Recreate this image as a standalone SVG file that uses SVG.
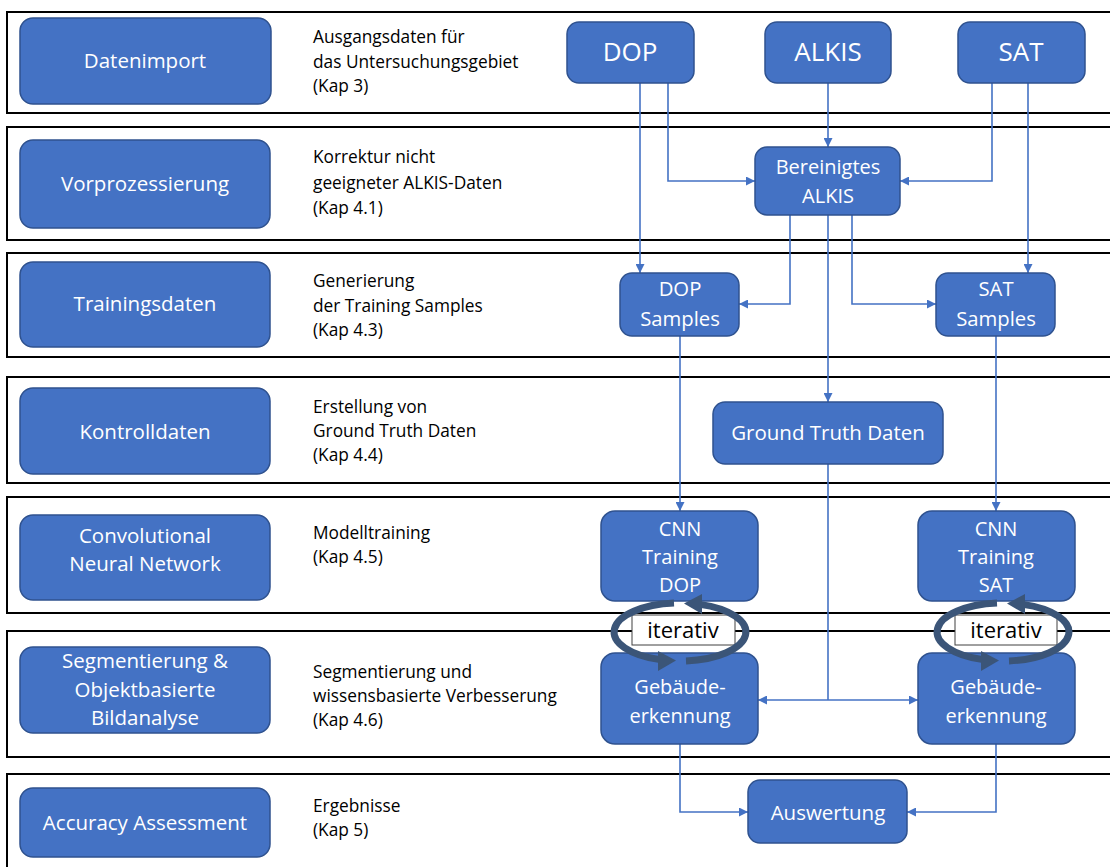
<svg xmlns="http://www.w3.org/2000/svg" width="1110" height="867" viewBox="0 0 1110 867">
  <defs>
    <marker id="arr" viewBox="0 0 10 10" refX="10" refY="5" markerWidth="9" markerHeight="9" markerUnits="userSpaceOnUse" orient="auto">
      <path d="M0,0 L10,5 L0,10 z" fill="#4472C4"/>
    </marker>
    <style>
      .band { fill: #ffffff; stroke: #000000; stroke-width: 2; }
      .node { fill: #4472C4; stroke: #2F528F; stroke-width: 1.5; }
      .nt { fill: #ffffff; font-family: "Open Sans", "Noto Sans", sans-serif; text-anchor: middle; }
      .desc { fill: #000000; font-family: "Open Sans", "Noto Sans", sans-serif; font-size: 17.3px; }
      .conn { fill: none; stroke: #4472C4; stroke-width: 1.6; marker-end: url(#arr); }
      .line { fill: none; stroke: #4472C4; stroke-width: 1.6; }
      .loop { fill: none; stroke: #3B5578; stroke-width: 7; }
      .loophead { fill: #3B5578; }
      .itbox { fill: #ffffff; stroke: #404040; stroke-width: 1; }
      .it { fill: #000000; font-family: "Open Sans", "Noto Sans", sans-serif; font-size: 22px; text-anchor: middle; }
    </style>
  </defs>

  <rect width="1110" height="867" fill="#ffffff"/>

  <!-- process stage bands -->
  <g id="bands">
    <rect class="band" x="7" y="12" width="1110" height="101"/>
    <rect class="band" x="7" y="127" width="1110" height="113"/>
    <rect class="band" x="7" y="253" width="1110" height="104"/>
    <rect class="band" x="7" y="377" width="1110" height="106"/>
    <rect class="band" x="7" y="497" width="1110" height="116"/>
    <rect class="band" x="7" y="631" width="1110" height="126"/>
    <rect class="band" x="7" y="774" width="1110" height="100"/>
  </g>

  <!-- stage labels -->
  <g id="stage-datenimport">
    <rect class="node" x="20" y="18" width="251" height="86" rx="13"/>
    <text class="nt" x="145" y="68" font-size="20.5">Datenimport</text>
  </g>
  <g id="stage-vorprozessierung">
    <rect class="node" x="20" y="140" width="250" height="88" rx="13"/>
    <text class="nt" x="145" y="191" font-size="20.5">Vorprozessierung</text>
  </g>
  <g id="stage-trainingsdaten">
    <rect class="node" x="20" y="262" width="250" height="85" rx="13"/>
    <text class="nt" x="145" y="311" font-size="20.5">Trainingsdaten</text>
  </g>
  <g id="stage-kontrolldaten">
    <rect class="node" x="20" y="388" width="250" height="86" rx="13"/>
    <text class="nt" x="145" y="439" font-size="20.5">Kontrolldaten</text>
  </g>
  <g id="stage-cnn">
    <rect class="node" x="20" y="515" width="250" height="85" rx="13"/>
    <text class="nt" x="145" y="543" font-size="20.5">Convolutional</text>
    <text class="nt" x="145" y="571" font-size="20.5">Neural Network</text>
  </g>
  <g id="stage-segmentierung">
    <rect class="node" x="20" y="647" width="250" height="86" rx="13"/>
    <text class="nt" x="145" y="668" font-size="20.5">Segmentierung &amp;</text>
    <text class="nt" x="145" y="697" font-size="20.5">Objektbasierte</text>
    <text class="nt" x="145" y="725" font-size="20.5">Bildanalyse</text>
  </g>
  <g id="stage-accuracy">
    <rect class="node" x="20" y="788" width="250" height="69" rx="13"/>
    <text class="nt" x="145" y="830" font-size="20.5">Accuracy Assessment</text>
  </g>

  <!-- stage descriptions -->
  <g id="descriptions">
    <text class="desc" x="313" y="43">Ausgangsdaten für</text>
    <text class="desc" x="313" y="68">das Untersuchungsgebiet</text>
    <text class="desc" x="313" y="92">(Kap 3)</text>
    <text class="desc" x="313" y="163">Korrektur nicht</text>
    <text class="desc" x="313" y="189">geeigneter ALKIS-Daten</text>
    <text class="desc" x="313" y="214">(Kap 4.1)</text>
    <text class="desc" x="313" y="287">Generierung</text>
    <text class="desc" x="313" y="312">der Training Samples</text>
    <text class="desc" x="313" y="336">(Kap 4.3)</text>
    <text class="desc" x="313" y="413">Erstellung von</text>
    <text class="desc" x="313" y="437">Ground Truth Daten</text>
    <text class="desc" x="313" y="461">(Kap 4.4)</text>
    <text class="desc" x="313" y="539">Modelltraining</text>
    <text class="desc" x="313" y="563">(Kap 4.5)</text>
    <text class="desc" x="313" y="678">Segmentierung und</text>
    <text class="desc" x="313" y="702">wissensbasierte Verbesserung</text>
    <text class="desc" x="313" y="726">(Kap 4.6)</text>
    <text class="desc" x="313" y="812">Ergebnisse</text>
    <text class="desc" x="313" y="836">(Kap 5)</text>
  </g>

  <!-- connectors -->
  <g id="connectors">
    <path class="conn" d="M640,83 V273"/>
    <path class="conn" d="M668,83 V181 H755"/>
    <path class="conn" d="M828,83 V147"/>
    <path class="conn" d="M992,83 V181 H900"/>
    <path class="conn" d="M1028,83 V273"/>
    <path class="conn" d="M790,215 V304 H739"/>
    <path class="conn" d="M828,215 V402"/>
    <path class="conn" d="M852,215 V304 H936"/>
    <path class="conn" d="M680,336 V511"/>
    <path class="conn" d="M996,336 V511"/>
    <path class="line" d="M828,464 V700"/>
    <path class="conn" d="M828,700 H758"/>
    <path class="conn" d="M828,700 H918"/>
    <path class="conn" d="M680,744 V812 H748"/>
    <path class="conn" d="M996,744 V812 H907"/>
  </g>

  <!-- data nodes -->
  <g id="node-dop">
    <rect class="node" x="567" y="22" width="127" height="61" rx="12"/>
    <text class="nt" x="630" y="61" font-size="26">DOP</text>
  </g>
  <g id="node-alkis">
    <rect class="node" x="765" y="22" width="126" height="61" rx="12"/>
    <text class="nt" x="828" y="61" font-size="26">ALKIS</text>
  </g>
  <g id="node-sat">
    <rect class="node" x="958" y="22" width="127" height="61" rx="12"/>
    <text class="nt" x="1021" y="61" font-size="26">SAT</text>
  </g>
  <g id="node-bereinigtes-alkis">
    <rect class="node" x="755" y="147" width="145" height="68" rx="12"/>
    <text class="nt" x="828" y="174" font-size="20">Bereinigtes</text>
    <text class="nt" x="828" y="203" font-size="20">ALKIS</text>
  </g>
  <g id="node-dop-samples">
    <rect class="node" x="620" y="273" width="119" height="63" rx="12"/>
    <text class="nt" x="680" y="296" font-size="20.3">DOP</text>
    <text class="nt" x="680" y="326" font-size="20.3">Samples</text>
  </g>
  <g id="node-sat-samples">
    <rect class="node" x="936" y="273" width="119" height="63" rx="12"/>
    <text class="nt" x="996" y="296" font-size="20.3">SAT</text>
    <text class="nt" x="996" y="326" font-size="20.3">Samples</text>
  </g>
  <g id="node-ground-truth">
    <rect class="node" x="713" y="402" width="230" height="62" rx="12"/>
    <text class="nt" x="828" y="440" font-size="20.5">Ground Truth Daten</text>
  </g>
  <g id="node-cnn-dop">
    <rect class="node" x="601" y="511" width="157" height="90" rx="14"/>
    <text class="nt" x="680" y="536" font-size="20">CNN</text>
    <text class="nt" x="680" y="564" font-size="20">Training</text>
    <text class="nt" x="680" y="592" font-size="20">DOP</text>
  </g>
  <g id="node-cnn-sat">
    <rect class="node" x="918" y="511" width="157" height="90" rx="14"/>
    <text class="nt" x="996" y="536" font-size="20">CNN</text>
    <text class="nt" x="996" y="564" font-size="20">Training</text>
    <text class="nt" x="996" y="592" font-size="20">SAT</text>
  </g>
  <g id="node-gebaeude-dop">
    <rect class="node" x="601" y="653" width="157" height="91" rx="14"/>
    <text class="nt" x="680" y="694" font-size="20">Gebäude-</text>
    <text class="nt" x="680" y="723" font-size="20">erkennung</text>
  </g>
  <g id="node-gebaeude-sat">
    <rect class="node" x="918" y="653" width="157" height="91" rx="14"/>
    <text class="nt" x="996" y="694" font-size="20">Gebäude-</text>
    <text class="nt" x="996" y="723" font-size="20">erkennung</text>
  </g>
  <g id="node-auswertung">
    <rect class="node" x="748" y="780" width="159" height="63" rx="12"/>
    <text class="nt" x="828" y="820" font-size="20.5">Auswertung</text>
  </g>

  <!-- iteration loops between training and detection -->
  <g id="loop-dop">
    <rect class="itbox" x="632" y="615" width="103" height="30"/>
    <text class="it" x="683" y="638">iterativ</text>
    <path class="loop" d="M686,660.9 A66,29 0 0 0 700,604.4"/>
    <polygon class="loophead" points="684,603.5 702,594 702,614"/>
    <path class="loop" d="M674,603.1 A66,29 0 0 0 660,659.6"/>
    <polygon class="loophead" points="676,660.5 658,651 658,671"/>
  </g>
  <g id="loop-sat">
    <rect class="itbox" x="955" y="615" width="102" height="30"/>
    <text class="it" x="1006" y="638">iterativ</text>
    <path class="loop" d="M1009,660.9 A66,29 0 0 0 1023,604.4"/>
    <polygon class="loophead" points="1007,603.5 1025,594 1025,614"/>
    <path class="loop" d="M997,603.1 A66,29 0 0 0 983,659.6"/>
    <polygon class="loophead" points="999,660.5 981,651 981,671"/>
  </g>
</svg>
